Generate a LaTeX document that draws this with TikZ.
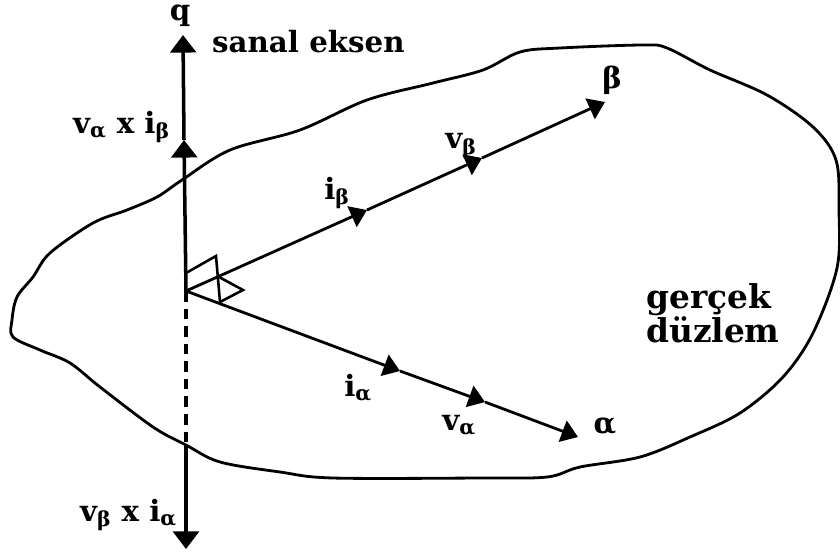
\documentclass[tikz,border=0pt]{standalone}
\usepackage{fontspec}
\setmainfont{DejaVu Serif}
\usetikzlibrary{arrows.meta}
\tikzset{
  ax/.style={line width=3pt, -{Triangle[length=15pt,width=22pt]}},
  vec/.style={line width=2.4pt, -{Triangle[length=14pt,width=19pt]}},
  rim/.style={line width=2.4pt, line join=round},
  mrk/.style={line width=2.2pt, line join=miter},
  lbl/.style={font=\fontsize{25}{30}\selectfont\bfseries, inner sep=0pt},
}

\begin{document}
\begin{tikzpicture}[x=0.03cm,y=-0.03cm]
  \useasboundingbox (0,0) rectangle (840,553);
  % gercek duzlem
  \draw[rim] plot[smooth cycle, tension=0.55] coordinates {
    (182,180) (230,150) (300,130) (367,100) (433,83) (483,70) (520,52)
    (560,48) (643,45) (667,48) (710,70) (767,95) (813,127) (836,160)
    (839,210) (837,268) (813,333) (783,377) (740,413) (690,437) (640,457)
    (580,467) (547,477) (480,478) (333,478) (280,472) (220,462) (186,445)
    (153,427) (100,387) (70,363) (40,350) (13,337) (12,320) (17,297)
    (33,277) (50,253) (93,223) (127,210) (157,197)};
  \coordinate (O)  at (186,291);
  \coordinate (qm) at (184,140);
  \coordinate (qt) at (183,35);
  \coordinate (qd) at (186,445);
  \coordinate (qb) at (186,549);
  \coordinate (ib) at (367,210);
  \coordinate (vb) at (482,158);
  \coordinate (bt) at (605,102);
  \coordinate (ia) at (400,371);
  \coordinate (va) at (485,402);
  \coordinate (at) at (578,437);
  \draw[ax] (O) -- (qm);
  \draw[ax] (qm) -- (qt);
  \draw[line width=3pt, dash pattern=on 9pt off 6pt] (O) -- (qd);
  \draw[ax] (qd) -- (qb);
  \draw[vec] (O) -- (ib);
  \draw[vec] (ib) -- (vb);
  \draw[vec] (vb) -- (bt);
  \draw[vec] (O) -- (ia);
  \draw[vec] (ia) -- (va);
  \draw[vec] (va) -- (at);
  \coordinate (q1) at (186,273);
  \coordinate (k1) at (216,256);
  \coordinate (b1) at (219,277);
  \coordinate (k2) at (243,290);
  \coordinate (a1) at (220,302);
  \draw[mrk] (q1) -- (k1) -- (a1);
  \draw[mrk] (b1) -- (k2) -- (a1);
  \node[lbl] (ql)  at (180,16)  {q};
  \node[lbl, anchor=west] (sn) at (212,42) {sanal eksen};
  \node[lbl, anchor=east] (vaib) at (170,127) {v\textsubscript{α} x i\textsubscript{β}};
  \node[lbl, anchor=east] (vbia) at (177,515) {v\textsubscript{β} x i\textsubscript{α}};
  \node[lbl] (ibl) at (337,193) {i\textsubscript{β}};
  \node[lbl] (vbl) at (461,146) {v\textsubscript{β}};
  \node[lbl] (bl)  at (612,80)  {β};
  \node[lbl] (ial) at (358,388) {i\textsubscript{α}};
  \node[lbl] (val) at (459,425) {v\textsubscript{α}};
  \node[lbl] (al)  at (605,426) {α};
  \node[lbl, font=\fontsize{28}{29}\selectfont\bfseries, anchor=west, align=left] (gd) at (646,313) {gerçek\\düzlem};
\end{tikzpicture}
\end{document}
